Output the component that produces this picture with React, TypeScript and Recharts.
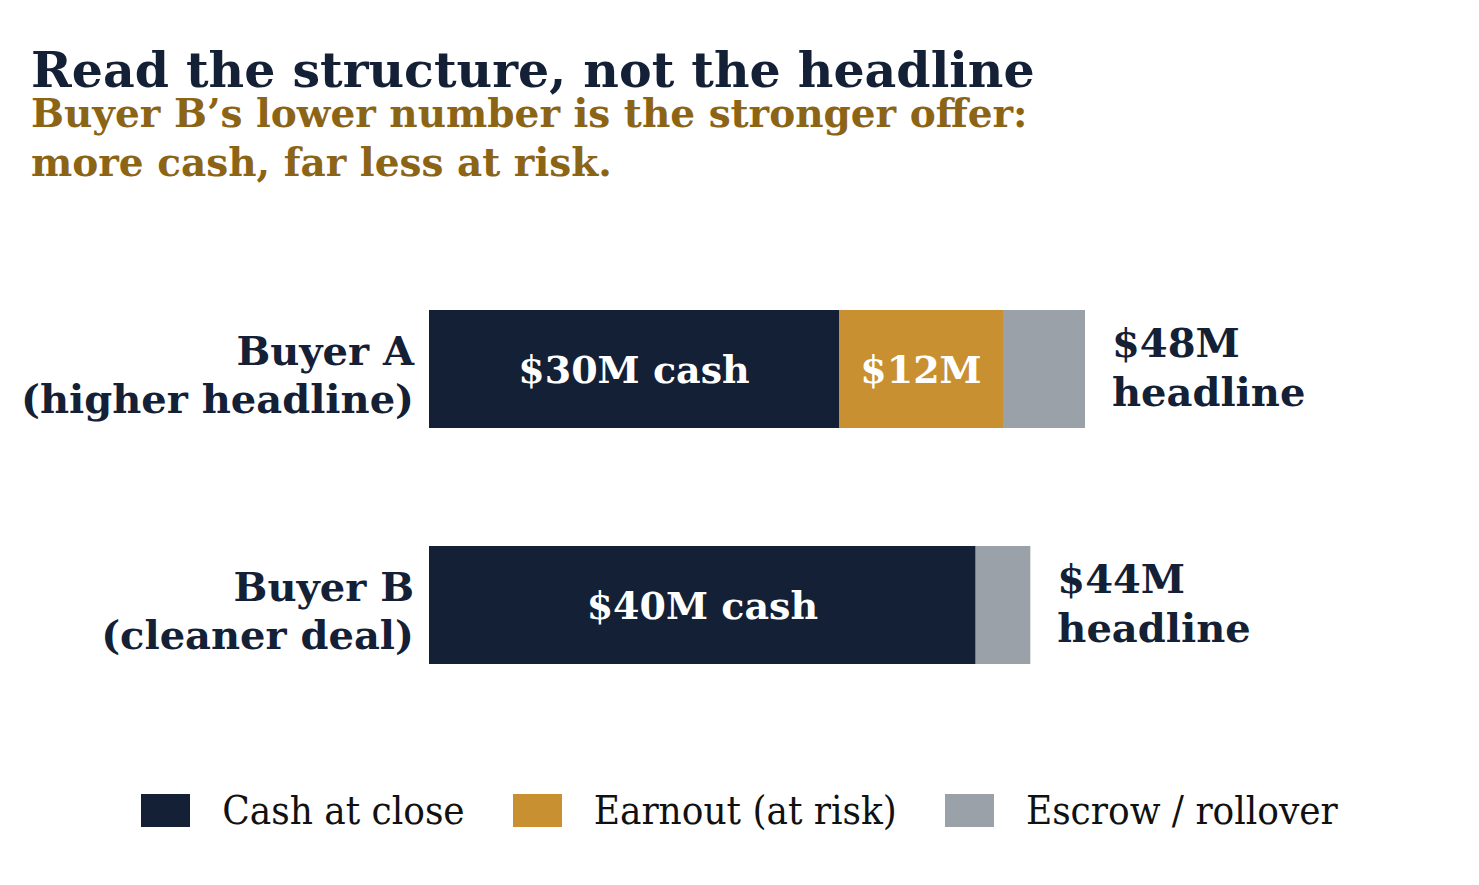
import { Bar, BarChart, LabelList, Legend, XAxis, YAxis } from "recharts";

const buyers = ["Buyer A", "Buyer B"];
const buyerNotes = ["(higher headline)", "(cleaner deal)"];
const cash = [30, 40];
const earnout = [12, 0];
const escrow = [6, 4];

const seriesNames = ["Cash at close", "Earnout (at risk)", "Escrow / rollover"];

const navy = "#132035";
const gold = "#c89030";
const grey = "#9ba1a8";
const serif = "'DejaVu Serif', serif";
const serifNarrow = "'DejaVu Serif Condensed', 'DejaVu Serif', serif";

const data = buyers.map((name, i) => ({
  name,
  note: buyerNotes[i],
  cash: cash[i],
  earnout: earnout[i],
  escrow: escrow[i],
  total: cash[i] + earnout[i] + escrow[i]
}));

function BuyerTick(props: any) {
  const { x, y, payload } = props;
  const row = data.find((d) => d.name === payload.value);
  return (
    <text fill={navy} fontFamily={serif} fontSize={40} fontWeight={700} textAnchor="end" x={x - 7} y={y}>
      <tspan dy={-4} x={x - 7}>{payload.value}</tspan>
      <tspan dy={48} x={x - 7}>{row?.note}</tspan>
    </text>
  );
}

function InsideLabel(props: any) {
  const { x, y, width, height, value, suffix } = props;
  if (!value) return null;
  return (
    <text dominantBaseline="central" fill="#ffffff" fontFamily={serif} fontSize={38} fontWeight={700} textAnchor="middle" x={x + width / 2} y={y + height / 2}>
      {`$${value}M${suffix}`}
    </text>
  );
}

function TotalLabel(props: any) {
  const { x, y, width, height, index } = props;
  const left = x + width + 27;
  const mid = y + height / 2;
  return (
    <text fill={navy} fontFamily={serif} fontSize={40} fontWeight={700} x={left} y={mid}>
      <tspan x={left} dy={-12}>{`$${data[index].total}M`}</tspan>
      <tspan x={left} dy={49}>headline</tspan>
    </text>
  );
}

function LegendBox() {
  const colours = [navy, gold, grey];
  return (
    <div style={{ display: "flex", justifyContent: "center", gap: 48 }}>
      {seriesNames.map((label, i) => (
        <div key={label} style={{ alignItems: "center", display: "flex", gap: 32 }}>
          <span style={{ background: colours[i], display: "inline-block", height: 33, width: 49 }} />
          <span style={{ color: "#111", fontFamily: serifNarrow, fontSize: 40 }}>{label}</span>
        </div>
      ))}
    </div>
  );
}

export default function App() {
  return (
    <div style={{ background: "#fff", height: 885, left: 0, position: "absolute", top: 0, width: 1479 }}>
      <div style={{ color: navy, fontFamily: serif, fontSize: 49, fontWeight: 700, left: 31, lineHeight: "48px", position: "absolute", top: 46 }}>
        Read the structure, not the headline
      </div>
      <div style={{ color: "#8c6416", fontFamily: serif, fontSize: 39, fontWeight: 700, left: 31, lineHeight: "49px", position: "absolute", top: 89 }}>
        Buyer B’s lower number is the stronger offer:
        <br />
        more cash, far less at risk.
      </div>
      <div style={{ left: 0, position: "absolute", top: 0 }}>
        <BarChart
          barCategoryGap="25%"
          data={data}
          height={885}
          layout="vertical"
          margin={{ bottom: 116, left: 0, right: 230, top: 251 }}
          width={1479}
        >
          <XAxis domain={[0, 60]} hide type="number" />
          <YAxis axisLine={false} dataKey="name" tick={<BuyerTick />} tickLine={false} type="category" width={429} />
          <Legend content={<LegendBox />} verticalAlign="bottom" wrapperStyle={{ bottom: 52, left: 0, width: 1479 }} />
          <Bar dataKey="cash" fill={navy} isAnimationActive={false} name={seriesNames[0]} stackId="deal">
            <LabelList content={<InsideLabel suffix=" cash" />} dataKey="cash" />
          </Bar>
          <Bar dataKey="earnout" fill={gold} isAnimationActive={false} name={seriesNames[1]} stackId="deal">
            <LabelList content={<InsideLabel suffix="" />} dataKey="earnout" />
          </Bar>
          <Bar dataKey="escrow" fill={grey} isAnimationActive={false} name={seriesNames[2]} stackId="deal">
            <LabelList content={<TotalLabel />} dataKey="escrow" />
          </Bar>
        </BarChart>
      </div>
    </div>
  );
}
